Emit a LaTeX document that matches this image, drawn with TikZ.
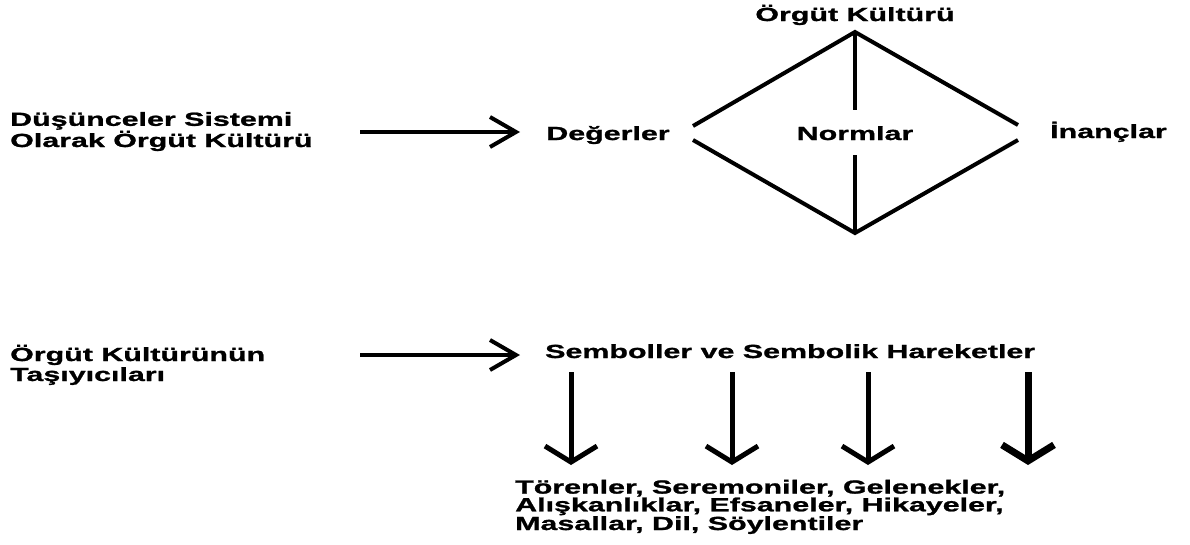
\documentclass[tikz,border=0pt]{standalone}
\usepackage{fontspec}
\usetikzlibrary{arrows.meta}
\newfontfamily\lblfont[FakeStretch=1.6,FakeBold=1.2,UprightFont={* Bold}]{Liberation Sans}
\begin{document}
\begin{tikzpicture}[x=1pt,y=-1pt,
  lbl/.style={inner sep=0pt,font=\lblfont\fontsize{19}{20}\selectfont,text=black},
  lblleft/.style={lbl,anchor=base west,align=left},
  hline/.style={line width=4pt,-{Straight Barb[length=26pt,width=30pt]}},
  vline/.style={line width=4.5pt,-{Straight Barb[length=16pt,width=52pt]}},
  dline/.style={line width=4pt}]
\useasboundingbox[fill=white] (0,0) rectangle (1190,544);
% top part
\node[lblleft] (dus) at (10,147) {Düşünceler Sistemi\\Olarak Örgüt Kültürü};
\node[lbl,anchor=base] (ok) at (855,21) {Örgüt Kültürü};
\node[lbl,anchor=base] (deg) at (608,140) {Değerler};
\node[lbl,anchor=base] (norm) at (855,140) {Normlar};
\node[lbl,anchor=base west] (inan) at (1050,138) {İnançlar};
\coordinate (a1s) at (360,132);
\coordinate (a1e) at (520,132);
\draw[hline] (a1s) -- (a1e);
\coordinate (top) at (855,32);
\coordinate (bot) at (855,233);
\coordinate (lt) at (693,126);
\coordinate (lb) at (693,140);
\coordinate (rt) at (1018,125);
\coordinate (rb) at (1018,140);
\coordinate (vt) at (855,110);
\coordinate (vb) at (855,155);
\draw[dline,line join=miter] (lt) -- (top) -- (rt);
\draw[dline,line join=miter] (lb) -- (bot) -- (rb);
\draw[dline] (top) -- (vt);
\draw[dline] (vb) -- (bot);
% bottom part
\node[lblleft] (tas) at (10,381) {Örgüt Kültürünün\\Taşıyıcıları};
\coordinate (a2s) at (360,355);
\coordinate (a2e) at (520,355);
\draw[hline] (a2s) -- (a2e);
\node[lbl,anchor=base west] (semb) at (545,358) {Semboller ve Sembolik Hareketler};
\foreach \x/\w [count=\i] in {571/5,732/5,868/5,1028/7}{
  \coordinate (d\i s) at (\x,372);
  \coordinate (d\i e) at (\x,465);
  \draw[vline,line width=\w pt] (d\i s) -- (d\i e);
}
\node[lblleft,font=\lblfont\fontsize{19}{16.5}\selectfont] (tor) at (515,530) {Törenler, Seremoniler, Gelenekler,\\Alışkanlıklar, Efsaneler, Hikayeler,\\Masallar, Dil, Söylentiler};
\end{tikzpicture}
\end{document}
